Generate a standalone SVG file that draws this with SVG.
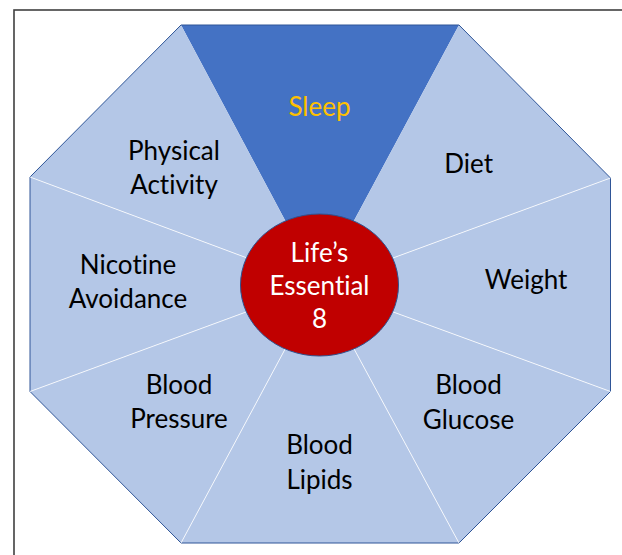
<svg xmlns="http://www.w3.org/2000/svg" width="622" height="555" viewBox="0 0 622 555">
<style>
.seg{fill:#B4C7E7;stroke:none}
.sleep{fill:#4472C4;stroke:none}
.lbl{font-family:Lato,"Liberation Sans",sans-serif;font-size:26px;fill:#000;text-anchor:middle;font-variant-ligatures:none;font-feature-settings:"liga" 0,"dlig" 0}
.gold{fill:#FFC000}
.white{fill:#FFFFFF}
.div{stroke:#FFFFFF;stroke-width:0.8;fill:none}
</style>
<rect x="0" y="0" width="622" height="555" fill="#FFFFFF"/>
<rect x="14" y="10" width="620" height="560" fill="none" stroke="#404040" stroke-width="1.6"/>
<g id="sleep"><polygon class="sleep" points="319.5,285 181,25 459,25"/><text class="lbl gold" x="319.5" y="115.5">Sleep</text></g>
<g id="diet"><polygon class="seg" points="319.5,285 459,25 610.5,178"/><text class="lbl" x="468.7" y="172.7">Diet</text></g>
<g id="weight"><polygon class="seg" points="319.5,285 610.5,178 610.5,391.5"/><text class="lbl" x="526" y="289.3">Weight</text></g>
<g id="blood-glucose"><polygon class="seg" points="319.5,285 610.5,391.5 459,543"/><text class="lbl" x="468.5" y="394.3">Blood</text><text class="lbl" x="468.5" y="428.5">Glucose</text></g>
<g id="blood-lipids"><polygon class="seg" points="319.5,285 459,543 181,543"/><text class="lbl" x="319.5" y="454.3">Blood</text><text class="lbl" x="319.5" y="488.8">Lipids</text></g>
<g id="blood-pressure"><polygon class="seg" points="319.5,285 181,543 30,391.5"/><text class="lbl" x="179" y="394.3">Blood</text><text class="lbl" x="179" y="428.3">Pressure</text></g>
<g id="nicotine-avoidance"><polygon class="seg" points="319.5,285 30,391.5 30,177"/><text class="lbl" x="128" y="274.3">Nicotine</text><text class="lbl" x="128" y="307.7">Avoidance</text></g>
<g id="physical-activity"><polygon class="seg" points="319.5,285 30,177 181,25"/><text class="lbl" x="174" y="160.3">Physical</text><text class="lbl" x="174" y="193.7">Activity</text></g>
<g id="connectors">
<polygon points="181,25 459,25 610.5,178 610.5,391.5 459,543 181,543 30,391.5 30,177" fill="none" stroke="#2F5597" stroke-width="1"/>
<line class="div" x1="319.5" y1="285" x2="610.5" y2="178"/>
<line class="div" x1="319.5" y1="285" x2="610.5" y2="391.5"/>
<line class="div" x1="319.5" y1="285" x2="459" y2="543"/>
<line class="div" x1="319.5" y1="285" x2="181" y2="543"/>
<line class="div" x1="319.5" y1="285" x2="30" y2="391.5"/>
<line class="div" x1="319.5" y1="285" x2="30" y2="177"/>
</g>
<g id="lifes-essential-8"><ellipse cx="319.5" cy="285" rx="79" ry="71" fill="#C00000" stroke="#2F528F" stroke-width="1"/><text class="lbl white" x="319.5" y="261.7">Life’s</text><text class="lbl white" x="319.5" y="295">Essential</text><text class="lbl white" x="319.5" y="328.3">8</text></g>
</svg>
